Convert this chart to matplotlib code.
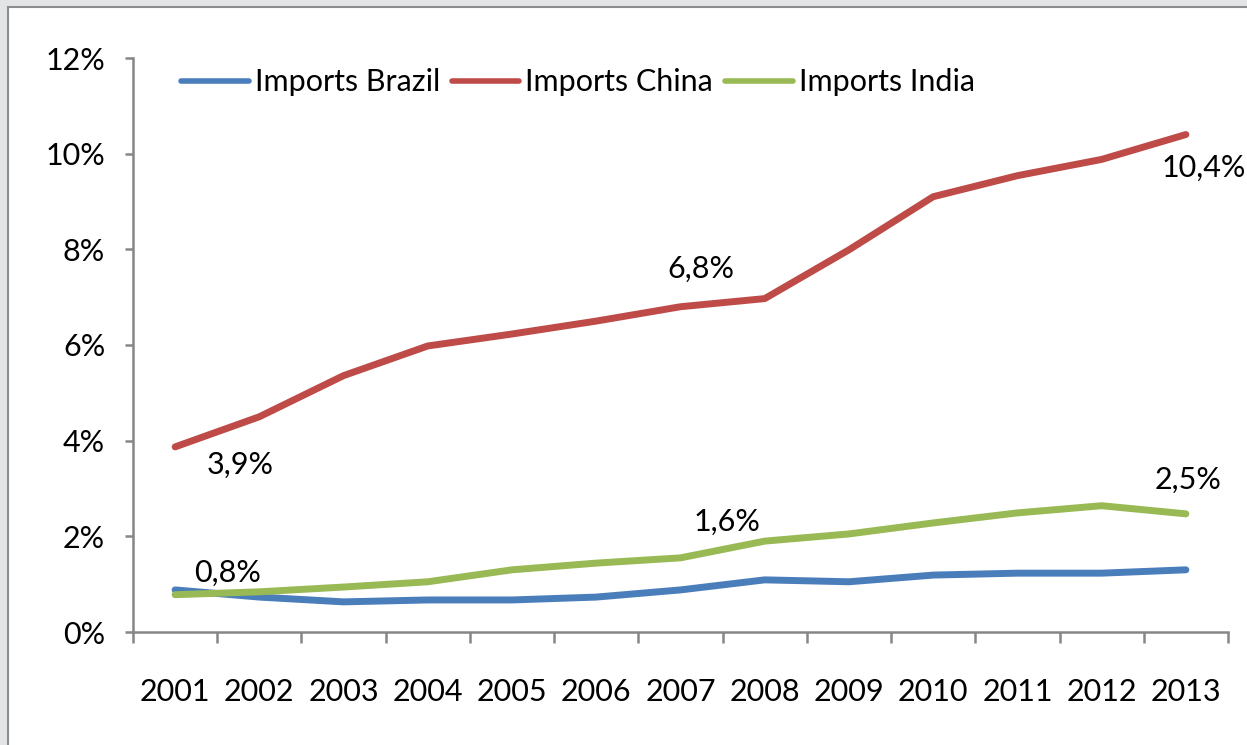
import matplotlib
matplotlib.use("Agg")
import matplotlib.pyplot as plt
from matplotlib.patches import Rectangle
from matplotlib.ticker import FixedLocator, FuncFormatter

years = ["2001", "2002", "2003", "2004", "2005", "2006", "2007",
         "2008", "2009", "2010", "2011", "2012", "2013"]
brazil = [0.88, 0.73, 0.63, 0.67, 0.67, 0.73, 0.88, 1.09, 1.05, 1.19, 1.23, 1.23, 1.30]
china = [3.87, 4.50, 5.36, 5.98, 6.23, 6.50, 6.80, 6.97, 7.99, 9.10, 9.54, 9.88, 10.40]
india = [0.78, 0.84, 0.94, 1.05, 1.30, 1.44, 1.55, 1.90, 2.05, 2.28, 2.49, 2.64, 2.47]
series_names = ["Imports Brazil", "Imports China", "Imports India"]
colors = ["#4A7EBB", "#BE4B48", "#98B954"]
# annotations: (series index, year index, text)
labels = [(1, 0, "3,9%"), (1, 6, "6,8%"), (1, 12, "10,4%"),
          (2, 0, "0,8%"), (2, 6, "1,6%"), (2, 12, "2,5%")]
label_offsets = {(1, 0): (65, -18), (1, 6): (20, 38), (1, 12): (18, -33),
                 (2, 0): (52, 22), (2, 6): (46, 36), (2, 12): (2, 34)}

plt.rcParams['font.family'] = ['Lato', 'DejaVu Sans']
fig = plt.figure(figsize=(12.47, 7.45), dpi=100)
fig.patch.set_facecolor("#E3E4E6")
fig.patches.append(Rectangle((8 / 1247, -0.01), 1.0, 1.01 - 7 / 745,
                             transform=fig.transFigure, facecolor="white",
                             edgecolor="#8C8C8C", linewidth=1.5, zorder=-5))

ax = fig.add_axes([133 / 1247, 1 - 632 / 745, (1228 - 133) / 1247, (632 - 58) / 745])
ax.set_facecolor("none")
x = list(range(len(years)))
data = [brazil, china, india]
for vals, name, c in zip(data, series_names, colors):
    ax.plot(x, vals, color=c, linewidth=5, solid_capstyle="round",
            solid_joinstyle="round", label=name)

for si, yi, txt in labels:
    dx, dy = label_offsets[(si, yi)]
    ax.annotate(txt, (x[yi], data[si][yi]), xytext=(dx * 0.72, dy * 0.72),
                textcoords="offset points", ha="center", va="center",
                fontsize=22, color="black", annotation_clip=False)

ax.set_xlim(-0.5, len(years) - 0.5)
ax.set_ylim(0, 12)
ax.set_yticks([0, 2, 4, 6, 8, 10, 12])
ax.yaxis.set_major_formatter(FuncFormatter(lambda v, p: f"{int(v)}%"))
ax.set_xticks(x)
ax.set_xticklabels(years)
ax.xaxis.set_minor_locator(FixedLocator([i - 0.5 for i in range(len(years) + 1)]))

for s in ["top", "right"]:
    ax.spines[s].set_visible(False)
for s in ["left", "bottom"]:
    ax.spines[s].set_color("#868686")
    ax.spines[s].set_linewidth(1.8)

ax.tick_params(axis="y", which="major", length=6, width=1.8, color="#868686",
               labelsize=22, pad=14)
ax.tick_params(axis="x", which="major", length=0, labelsize=22, pad=33)
ax.tick_params(axis="x", which="minor", length=8, width=1.8, color="#868686")

leg = ax.legend(loc="upper left", bbox_to_anchor=(0.019, 1.03), ncol=3, frameon=False,
                fontsize=22, handlelength=2.2, handletextpad=0.2, columnspacing=0.4)
for line in leg.get_lines():
    line.set_linewidth(4)

fig.savefig("out.png", dpi=100, facecolor=fig.get_facecolor())
